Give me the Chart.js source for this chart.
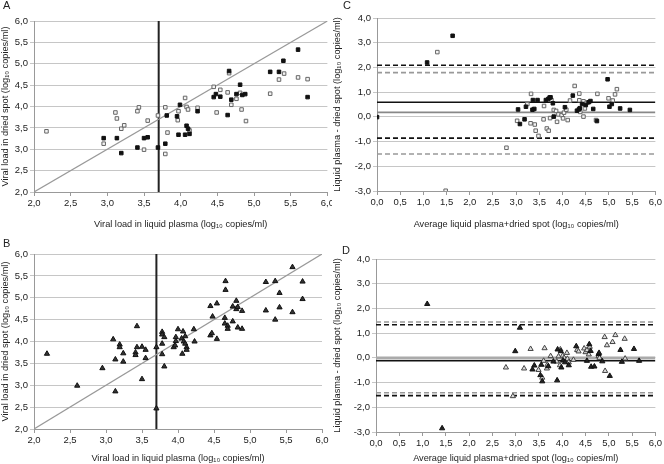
<!DOCTYPE html>
<html>
<head>
<meta charset="utf-8">
<script src="https://cdn.jsdelivr.net/npm/chart.js@4"></script>
<style>
  body { margin: 0; background: #fff; width: 664px; height: 464px; position: relative; overflow: hidden; }
  canvas { position: absolute; }
  .tag { position: absolute; font: 11px 'Liberation Sans', Arial, sans-serif; color: #222; }
</style>
</head>
<body>
<canvas id="chartA" width="336" height="230" style="left:0;top:0"></canvas>
<canvas id="chartC" width="332" height="230" style="left:332px;top:0"></canvas>
<canvas id="chartB" width="336" height="232" style="left:0;top:232px"></canvas>
<canvas id="chartD" width="332" height="232" style="left:332px;top:232px"></canvas>
<div class="tag" style="left:3px;top:-1px">A</div>
<div class="tag" style="left:343px;top:-1px">C</div>
<div class="tag" style="left:3px;top:237px">B</div>
<div class="tag" style="left:342px;top:244px">D</div>
<script>
// Panel A: liquid plasma vs dried spot (squares)
const aFilledX = [2.95, 3.13, 3.19, 3.41, 3.50, 3.55, 3.69, 3.79, 3.81, 3.95, 3.97, 3.99, 4.06, 4.08, 4.10, 4.12, 4.23, 4.45, 4.48, 4.54, 4.64, 4.66, 4.69, 4.76, 4.81, 4.84, 4.88, 5.22, 5.34, 5.40, 5.60, 5.73];
const aFilledY = [3.26, 3.26, 2.91, 3.04, 3.26, 3.28, 3.04, 3.13, 3.79, 3.77, 3.34, 4.04, 3.34, 3.55, 3.48, 3.36, 3.89, 4.22, 4.29, 4.23, 3.80, 4.83, 4.16, 4.29, 4.51, 4.27, 4.29, 4.81, 4.81, 5.07, 5.33, 4.22];
const aOpenX = [2.17, 2.95, 3.11, 3.13, 3.19, 3.23, 3.41, 3.43, 3.50, 3.55, 3.69, 3.79, 3.79, 3.82, 3.96, 3.97, 4.06, 4.08, 4.10, 4.12, 4.23, 4.45, 4.49, 4.54, 4.64, 4.66, 4.69, 4.76, 4.81, 4.83, 4.89, 5.22, 5.34, 5.41, 5.60, 5.73];
const aOpenY = [3.42, 3.13, 3.86, 3.72, 3.48, 3.56, 3.89, 3.98, 2.99, 3.67, 3.79, 3.98, 2.89, 3.39, 3.68, 3.89, 4.20, 3.99, 3.93, 3.44, 3.97, 4.46, 3.86, 4.39, 4.33, 4.78, 4.04, 4.18, 4.32, 3.93, 3.66, 4.30, 4.63, 4.77, 4.68, 4.64];

// Panel B: triangles
const bX = [2.18, 2.60, 2.95, 3.10, 3.13, 3.13, 3.19, 3.19, 3.24, 3.24, 3.41, 3.41, 3.43, 3.43, 3.50, 3.50, 3.55, 3.55, 3.70, 3.70, 3.78, 3.78, 3.78, 3.78, 3.81, 3.81, 3.97, 3.97, 3.94, 3.96, 4.00, 4.05, 4.06, 4.07, 4.08, 4.10, 4.10, 4.12, 4.12, 4.22, 4.23, 4.45, 4.45, 4.47, 4.48, 4.54, 4.54, 4.65, 4.65, 4.66, 4.66, 4.69, 4.69, 4.76, 4.76, 4.81, 4.81, 4.83, 4.83, 4.89, 4.89, 5.22, 5.22, 5.35, 5.35, 5.41, 5.41, 5.59, 5.59, 5.73, 5.73];
const bY = [3.72, 2.99, 3.39, 4.05, 3.59, 2.86, 3.93, 3.87, 3.73, 3.54, 3.75, 3.69, 4.35, 3.87, 3.88, 3.14, 3.81, 3.62, 3.87, 2.47, 4.22, 4.16, 3.95, 3.71, 4.10, 3.43, 4.01, 4.10, 3.87, 3.91, 4.28, 4.07, 3.72, 4.23, 4.00, 3.95, 4.12, 3.87, 3.81, 4.28, 4.00, 4.81, 4.14, 4.19, 4.57, 4.87, 4.06, 4.54, 4.41, 5.38, 5.18, 4.36, 4.29, 4.80, 4.46, 4.93, 4.74, 4.79, 4.32, 4.70, 4.29, 5.36, 4.71, 5.38, 4.50, 5.11, 4.78, 5.70, 4.67, 5.37, 4.97];

// Panel C: difference vs average (squares)
const cFilledX = [0.00, 1.08, 1.63, 3.04, 3.08, 3.18, 3.21, 3.36, 3.35, 3.39, 3.46, 3.64, 3.69, 3.72, 3.74, 3.79, 3.81, 4.05, 4.22, 4.31, 4.35, 4.37, 4.42, 4.50, 4.56, 4.60, 4.66, 4.74, 4.97, 5.01, 5.06, 5.24, 5.45];
const cFilledY = [-0.01, 2.20, 3.28, 0.30, -0.29, -0.10, 0.41, 0.68, 0.29, 0.32, 0.68, 0.68, 0.72, 0.78, 0.79, 0.55, 0.01, 0.39, 0.86, 0.25, 0.30, 0.35, 0.52, 0.48, 0.59, 0.64, 0.32, -0.17, 1.52, 0.41, 0.52, 0.34, 0.28];
const cOpenX = [1.30, 1.48, 2.79, 3.02, 3.24, 3.32, 3.31, 3.40, 3.42, 3.48, 3.60, 3.59, 3.66, 3.70, 3.73, 3.76, 3.81, 3.86, 3.88, 3.91, 3.98, 4.01, 4.03, 4.08, 4.11, 4.16, 4.26, 4.36, 4.36, 4.38, 4.45, 4.45, 4.48, 4.52, 4.72, 4.75, 4.99, 5.08, 5.13, 5.17];
const cOpenY = [2.62, -2.99, -1.25, -0.16, 0.52, 0.93, -0.26, -0.31, -0.56, -0.77, 0.44, -0.10, -0.47, -0.56, -0.05, 0.68, 0.28, 0.24, -0.20, 0.10, 0.07, -0.06, 0.17, 0.29, -0.13, 0.66, 1.25, 0.94, 0.67, 0.20, 0.63, 0.01, 0.34, 0.57, -0.13, 0.93, 0.75, 0.66, 0.91, 1.12];
const cMean = [0.59, 0.18];          // black, grey
const cLimitsBlack = [2.09, -0.86];
const cLimitsGrey = [1.79, -1.50];

// Panel D: difference vs average (triangles)
const dFilledX = [1.10, 1.42, 2.99, 3.09, 3.36, 3.40, 3.53, 3.57, 3.55, 3.70, 3.81, 3.89, 3.90, 3.97, 3.98, 4.02, 4.06, 4.14, 4.30, 4.53, 4.58, 4.61, 4.62, 4.69, 4.78, 4.79, 4.86, 5.02, 5.25, 5.28, 5.54, 5.65];
const dFilledY = [2.18, -2.85, 0.27, 1.22, -0.47, -0.31, -0.70, -0.95, -0.28, -0.34, -0.15, -0.91, 0.34, 0.27, -0.39, -0.11, -0.18, -0.30, 0.47, -0.12, 0.55, 0.28, -0.36, -0.35, 0.15, 0.20, -0.14, -0.73, 0.32, -0.16, 0.36, -0.12];
const dOpenX = [2.79, 2.94, 3.18, 3.32, 3.49, 3.57, 3.60, 3.62, 3.67, 3.68, 3.75, 3.88, 3.92, 3.95, 3.96, 4.01, 4.04, 4.10, 4.11, 4.14, 4.24, 4.32, 4.35, 4.47, 4.50, 4.53, 4.57, 4.59, 4.78, 4.80, 4.91, 4.92, 4.96, 5.08, 5.14, 5.34, 5.35];
const dOpenY = [-0.39, -1.55, -0.43, 0.36, -0.49, -0.80, -0.12, 0.39, -0.43, -0.28, 0.07, -0.15, 0.06, -0.30, 0.34, 0.09, 0.00, 0.20, -0.04, -0.18, -0.08, 0.32, 0.26, 0.38, 0.23, 0.31, 0.14, 0.45, 0.07, 0.00, 0.84, -0.53, 0.51, 0.64, 0.92, 0.77, -0.03];
const dMean = [-0.12, -0.01];        // black, grey
const dLimitsBlack = [1.34, -1.53];
const dLimitsGrey = [1.45, -1.41];

const cutoff = 3.7;
const txtPlasma = 'Viral load in liquid plasma (log\u2081\u2080 copies/ml)';
const txtSpot = 'Viral load in dried spot (log\u2081\u2080 copies/ml)';
const txtAverage = 'Average liquid plasma+dried spot (log\u2081\u2080 copies/ml)';
const txtDiff = 'Liquid plasma - dried spot (log\u2081\u2080 copies/ml)';

const FONT = "'Liberation Sans', Arial, sans-serif";
const pts = (xs, ys) => xs.map((x, i) => ({ x: x, y: ys[i] }));
const comma = v => v.toFixed(1).replace('.', ',');

// white background so overlapping canvases hide each other
const whiteBg = {
  id: 'whiteBg',
  beforeDraw(chart) {
    const ctx = chart.ctx;
    ctx.save();
    ctx.fillStyle = '#fff';
    ctx.fillRect(0, 0, chart.width, chart.height);
    ctx.restore();
  }
};

function segment(x0, y0, x1, y1, color, width, dash) {
  return {
    type: 'line', data: [{ x: x0, y: y0 }, { x: x1, y: y1 }],
    borderColor: color, borderWidth: width, borderDash: dash || [],
    pointRadius: 0, fill: false, order: 2
  };
}

function markers(xs, ys, style, fill, stroke, r) {
  return {
    type: 'scatter', data: pts(xs, ys), pointStyle: style,
    pointRadius: r, backgroundColor: fill, borderColor: stroke, borderWidth: 1, order: 1
  };
}

function axes(xMin, xMax, yMin, yMax, yStep, xTitle, yTitle, yWidth, xHeight) {
  return {
    x: {
      type: 'linear', min: xMin, max: xMax,
      afterFit: s => { s.height = xHeight; },
      ticks: { stepSize: 0.5, callback: comma, font: { family: FONT, size: 9.5 }, color: '#222', maxRotation: 0, autoSkip: false, padding: 2 },
      grid: { drawOnChartArea: false, tickLength: 4, color: '#999' },
      border: { color: '#999' },
      title: { display: true, text: xTitle, font: { family: FONT, size: 9.2 }, color: '#222', padding: { top: 3, bottom: 0 } }
    },
    y: {
      min: yMin, max: yMax,
      afterFit: s => { s.width = yWidth; },
      ticks: { stepSize: yStep, callback: comma, font: { family: FONT, size: 9.5 }, color: '#222', padding: 2 },
      grid: { color: '#c6c6c6', tickLength: 4 },
      border: { color: '#999' },
      title: { display: true, text: yTitle, font: { family: FONT, size: 9.2 }, color: '#222', padding: { top: 0, bottom: 2 } }
    }
  };
}

function makeChart(id, datasets, scales, padding) {
  new Chart(document.getElementById(id), {
    type: 'scatter',
    data: { datasets: datasets },
    options: {
      responsive: false,
      animation: false,
      layout: { padding: padding },
      scales: scales,
      plugins: { legend: { display: false }, tooltip: { enabled: false } }
    },
    plugins: [whiteBg]
  });
}

// A
makeChart('chartA', [
  markers(aFilledX, aFilledY, 'rect', '#111', '#111', 2.5),
  markers(aOpenX, aOpenY, 'rect', '#f4f4f4', '#666', 2.5),
  segment(2, 2, 6, 6, '#999', 1.2),
  segment(cutoff, 2, cutoff, 6, '#222', 2)
], axes(2, 6, 2, 6, 0.5, txtPlasma, txtSpot, 34, 38), { top: 21, right: 8, bottom: 0, left: 0 });

// C
makeChart('chartC', [
  markers(cFilledX, cFilledY, 'rect', '#111', '#111', 2.5),
  markers(cOpenX, cOpenY, 'rect', '#f4f4f4', '#666', 2.5),
  segment(0, cMean[0], 6, cMean[0], '#111', 1.6),
  segment(0, cMean[1], 6, cMean[1], '#888', 1.6),
  segment(0, cLimitsBlack[0], 6, cLimitsBlack[0], '#111', 1.6, [5, 3]),
  segment(0, cLimitsBlack[1], 6, cLimitsBlack[1], '#111', 1.6, [5, 3]),
  segment(0, cLimitsGrey[0], 6, cLimitsGrey[0], '#999', 1.6, [5, 3]),
  segment(0, cLimitsGrey[1], 6, cLimitsGrey[1], '#999', 1.6, [5, 3])
], axes(0, 6, -3, 4, 1, txtAverage, txtDiff, 45, 39), { top: 18, right: 6, bottom: 0, left: 0 });

// B
makeChart('chartB', [
  markers(bX, bY, 'triangle', '#333', '#111', 3),
  segment(2, 2, 6, 6, '#999', 1.2),
  segment(cutoff, 2, cutoff, 6, '#222', 2)
], axes(2, 6, 2, 6, 0.5, txtPlasma, txtSpot, 34, 35), { top: 22, right: 14, bottom: 0, left: 0 });

// D
makeChart('chartD', [
  markers(dFilledX, dFilledY, 'triangle', '#222', '#111', 3),
  markers(dOpenX, dOpenY, 'triangle', '#ddd', '#444', 3),
  segment(0, dMean[1], 6, dMean[1], '#aaa', 3),
  segment(0, dMean[0], 6, dMean[0], '#111', 1.6),
  segment(0, dLimitsBlack[0], 6, dLimitsBlack[0], '#111', 1.6, [5, 3]),
  segment(0, dLimitsBlack[1], 6, dLimitsBlack[1], '#111', 1.6, [5, 3]),
  segment(0, dLimitsGrey[0], 6, dLimitsGrey[0], '#999', 1.6, [5, 3]),
  segment(0, dLimitsGrey[1], 6, dLimitsGrey[1], '#999', 1.6, [5, 3])
], axes(0, 6, -3, 4, 1, txtAverage, txtDiff, 44, 32), { top: 27, right: 6, bottom: 0, left: 0 });
</script>
</body>
</html>
